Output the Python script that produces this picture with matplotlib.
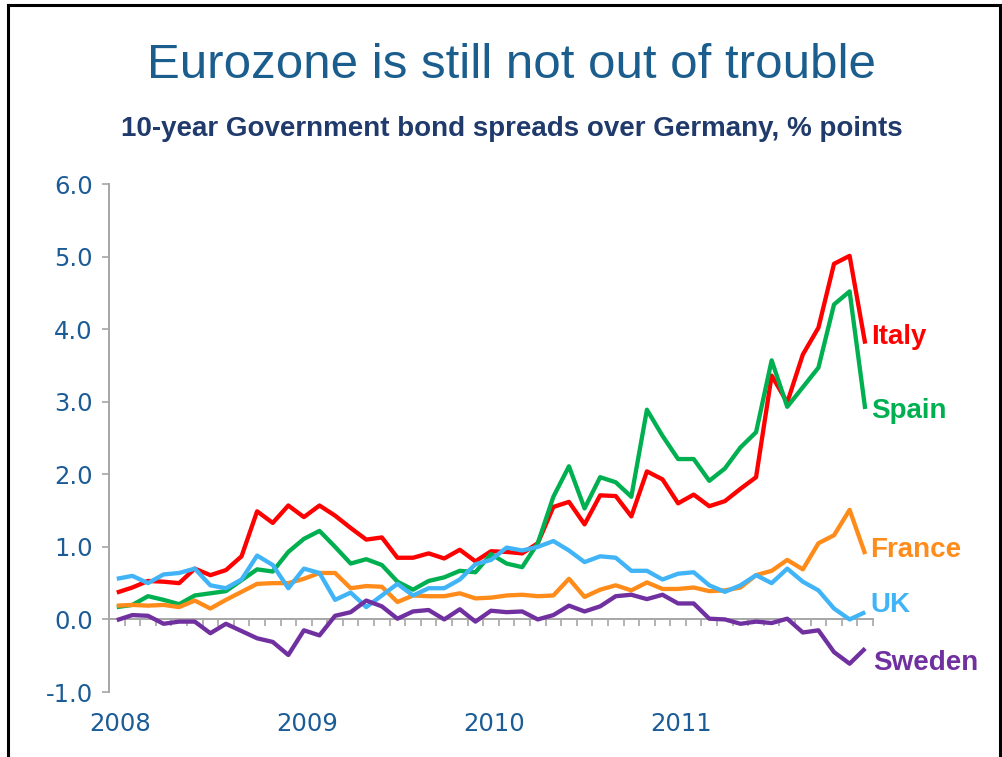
import matplotlib
matplotlib.use('Agg')
import matplotlib.pyplot as plt
import matplotlib.transforms as mtransforms
from matplotlib.lines import Line2D
import numpy as np

# 10-year bond spread over Bunds, monthly, Jan 2008 - Jan 2012
years = ['2008', '2009', '2010', '2011']

italy = [0.37, 0.44, 0.53, 0.52, 0.50, 0.70, 0.61, 0.68, 0.87, 1.49, 1.33, 1.57,
         1.41, 1.57, 1.43, 1.26, 1.10, 1.13, 0.85, 0.85, 0.91, 0.84, 0.96, 0.80,
         0.94, 0.93, 0.91, 1.05, 1.55, 1.62, 1.31, 1.71, 1.70, 1.42, 2.04, 1.93,
         1.60, 1.72, 1.56, 1.63, 1.80, 1.96, 3.36, 2.99, 3.65, 4.02, 4.90, 5.01,
         3.80]
spain = [0.17, 0.20, 0.32, 0.27, 0.21, 0.33, 0.36, 0.39, 0.54, 0.69, 0.66, 0.93,
         1.11, 1.22, 1.00, 0.77, 0.83, 0.75, 0.52, 0.41, 0.53, 0.58, 0.67, 0.65,
         0.90, 0.77, 0.72, 1.05, 1.69, 2.11, 1.53, 1.96, 1.89, 1.69, 2.89, 2.53,
         2.21, 2.21, 1.91, 2.08, 2.37, 2.58, 3.57, 2.93, 3.20, 3.47, 4.34, 4.52,
         2.90]
france = [0.19, 0.20, 0.19, 0.20, 0.17, 0.26, 0.15, 0.27, 0.38, 0.49, 0.50, 0.50,
          0.56, 0.64, 0.64, 0.43, 0.46, 0.45, 0.24, 0.33, 0.32, 0.32, 0.36, 0.29,
          0.30, 0.33, 0.34, 0.32, 0.33, 0.56, 0.31, 0.41, 0.47, 0.40, 0.51, 0.42,
          0.42, 0.44, 0.39, 0.40, 0.44, 0.61, 0.67, 0.82, 0.69, 1.05, 1.16, 1.51,
          0.90]
uk = [0.56, 0.60, 0.50, 0.62, 0.64, 0.70, 0.47, 0.43, 0.55, 0.88, 0.75, 0.43,
      0.70, 0.64, 0.27, 0.37, 0.17, 0.33, 0.49, 0.33, 0.43, 0.43, 0.55, 0.76,
      0.82, 0.99, 0.95, 1.00, 1.08, 0.95, 0.79, 0.87, 0.85, 0.67, 0.67, 0.55,
      0.63, 0.65, 0.47, 0.38, 0.47, 0.61, 0.50, 0.70, 0.52, 0.40, 0.15, 0.00,
      0.10]
sweden = [-0.01, 0.06, 0.05, -0.06, -0.03, -0.03, -0.19, -0.06, -0.16, -0.26, -0.31, -0.49,
          -0.15, -0.22, 0.05, 0.10, 0.26, 0.18, 0.01, 0.11, 0.13, 0.00, 0.14, -0.03,
          0.12, 0.10, 0.11, 0.00, 0.06, 0.19, 0.11, 0.18, 0.32, 0.34, 0.28, 0.34,
          0.22, 0.22, 0.01, 0.00, -0.06, -0.03, -0.05, 0.01, -0.18, -0.15, -0.45, -0.61,
          -0.40]

names = ['Italy', 'Spain', 'France', 'UK', 'Sweden']
values = [italy, spain, france, uk, sweden]
colors = ['#FF0000', '#00B050', '#FF8C1A', '#40B4F7', '#7030A0']
# end-label nudges in points (x, y)
nudges = [(4, 0), (4, -6.5), (3.5, -2), (3.5, 0), (5.5, -15.5)]

tick_blue = '#1C5C96'
axis_grey = '#A6A6A6'

W, H = 1003, 757
fig = plt.figure(figsize=(W / 100, H / 100), dpi=100)
ax = fig.add_axes([109 / W, 65 / H, 764 / W, 508 / H])

n = len(italy)
x = np.arange(n)
for name, vals, col, (dx, dy) in zip(names, values, colors, nudges):
    ax.plot(x, vals, color=col, lw=3.1, solid_capstyle='butt', zorder=3)
    ax.annotate(name, xy=(x[-1], vals[-1]), xytext=(dx, dy), textcoords='offset points',
                ha='left', va='baseline', color=col, fontsize=20, fontweight='bold',
                family='Liberation Sans', annotation_clip=False)

ax.set_xlim(-0.5, n - 0.5)
ax.set_ylim(-1, 6)

for s in ['top', 'right']:
    ax.spines[s].set_visible(False)
ax.spines['bottom'].set_position(('data', 0))
ax.spines['bottom'].set_color(axis_grey)
ax.spines['left'].set_color(axis_grey)
ax.spines['bottom'].set_linewidth(1.4)
ax.spines['left'].set_linewidth(1.4)

# month ticks between categories on the zero line
ax.set_xticks([])
ax.set_xticks(np.arange(0.5, n, 1), minor=True)
ax.tick_params(axis='x', which='minor', direction='out', length=5, width=1.2,
               color=axis_grey, labelbottom=False)

ax.set_yticks(np.arange(-1, 7))
ax.set_yticklabels(['%.1f' % v for v in np.arange(-1, 7)])
ax.tick_params(axis='y', direction='out', length=4.7, width=1.2, color=axis_grey,
               pad=7, labelsize=17.5, labelcolor=tick_blue)

trans = mtransforms.blended_transform_factory(ax.transData, ax.transAxes)
for k, yr in enumerate(years):
    ax.text(12 * k + 0.2, -0.063, yr, transform=trans, ha='center', va='center',
            fontsize=17.5, color=tick_blue)

fig.text(511.5 / W, 1 - 78 / H, 'Eurozone is still not out of trouble', ha='center',
         va='baseline', fontsize=35.5, color='#1B5E8E', family='Liberation Sans')
fig.text(511.5 / W, 1 - 136 / H, '10-year Government bond spreads over Germany, % points',
         ha='center', va='baseline', fontsize=20, fontweight='bold', color='#1F3A6B',
         family='Liberation Sans')

# slide frame
frame = dict(color='black', lw=2.2, transform=fig.transFigure)
fig.add_artist(Line2D([8 / W, 8 / W], [0, 1 - 5 / H], **frame))
fig.add_artist(Line2D([8 / W, 1000 / W], [1 - 5 / H, 1 - 5 / H], **frame))
fig.add_artist(Line2D([1000 / W, 1000 / W], [0, 1 - 5 / H], **frame))

fig.savefig('out.png', dpi=100)
